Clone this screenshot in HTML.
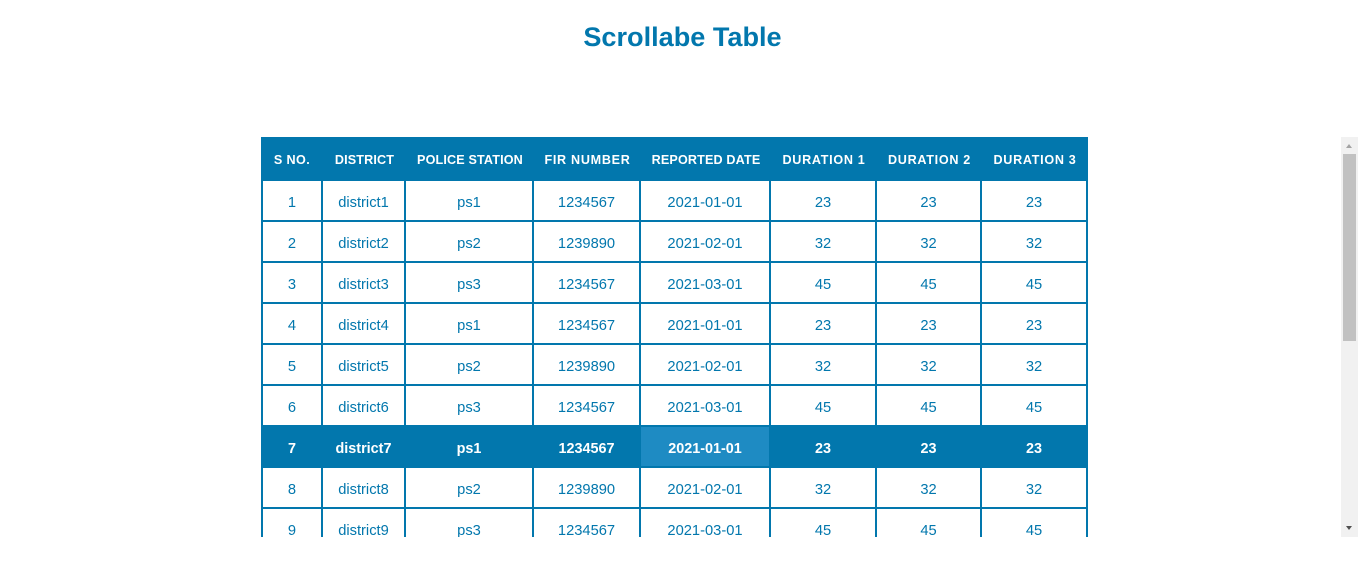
<!DOCTYPE html>
<html lang="en">
<head>
<meta charset="utf-8">
<title>Scrollabe Table</title>
<style>
  html, body { margin: 0; padding: 0; width: 1365px; height: 585px; overflow: hidden; background: #fff; }
  body { position: relative; font-family: "Liberation Sans", sans-serif; color: #0277ad; }
  h1 { position: absolute; left: 0; top: 20px; width: 1365px; margin: 0; text-align: center; font-size: 27.1px; line-height: 34px; font-weight: 700; color: #0277ad; }
  .viewport { position: absolute; left: 261px; top: 137px; width: 827px; height: 400px; overflow: hidden; }
  table { border-collapse: separate; border-spacing: 0; table-layout: fixed; width: 827px; }
  th, td { box-sizing: border-box; text-align: center; vertical-align: middle; }
  th { height: 44px; padding: 2px 0 0; background: #0277ad; color: #fff; font-size: 12.6px; font-weight: 700; letter-spacing: 0.15px; }
  th.wide { letter-spacing: 0.7px; }
  th.first { letter-spacing: 0.4px; }
  td { height: 41px; padding: 4px 0 0; font-size: 14.7px; border-right: 2px solid #0277ad; border-bottom: 2px solid #0277ad; }
  td:first-child { border-left: 2px solid #0277ad; }
  tr.selected td { background: #0277ad; color: #fff; font-weight: 700; font-size: 14.4px; }
  tr.selected td.hover-cell { background: #1e8bc3; }
  .scrollbar { position: absolute; left: 1341px; top: 137px; width: 17px; height: 400px; background: #f1f1f1; }
  .thumb { position: absolute; left: 2px; top: 17px; width: 13px; height: 187px; background: #c1c1c1; }
  .arrow { position: absolute; left: 5px; width: 0; height: 0; border-left: 3.5px solid transparent; border-right: 3.5px solid transparent; }
  .arrow-up { top: 7px; border-bottom: 4px solid #a3a3a3; }
  .arrow-down { bottom: 7px; border-top: 4px solid #505050; }
</style>
</head>
<body>
<h1>Scrollabe Table</h1>
<div class="viewport">
<table>
  <colgroup>
    <col style="width:62px"><col style="width:83px"><col style="width:128px"><col style="width:107px"><col style="width:130px"><col style="width:106px"><col style="width:105px"><col style="width:106px">
  </colgroup>
  <thead>
    <tr>
      <th class="first">S NO.</th>
      <th>DISTRICT</th>
      <th>POLICE STATION</th>
      <th class="wide">FIR NUMBER</th>
      <th>REPORTED DATE</th>
      <th class="wide">DURATION 1</th>
      <th class="wide">DURATION 2</th>
      <th class="wide">DURATION 3</th>
    </tr>
  </thead>
  <tbody>
    <tr><td>1</td><td>district1</td><td>ps1</td><td>1234567</td><td>2021-01-01</td><td>23</td><td>23</td><td>23</td></tr>
    <tr><td>2</td><td>district2</td><td>ps2</td><td>1239890</td><td>2021-02-01</td><td>32</td><td>32</td><td>32</td></tr>
    <tr><td>3</td><td>district3</td><td>ps3</td><td>1234567</td><td>2021-03-01</td><td>45</td><td>45</td><td>45</td></tr>
    <tr><td>4</td><td>district4</td><td>ps1</td><td>1234567</td><td>2021-01-01</td><td>23</td><td>23</td><td>23</td></tr>
    <tr><td>5</td><td>district5</td><td>ps2</td><td>1239890</td><td>2021-02-01</td><td>32</td><td>32</td><td>32</td></tr>
    <tr><td>6</td><td>district6</td><td>ps3</td><td>1234567</td><td>2021-03-01</td><td>45</td><td>45</td><td>45</td></tr>
    <tr class="selected"><td>7</td><td>district7</td><td>ps1</td><td>1234567</td><td class="hover-cell">2021-01-01</td><td>23</td><td>23</td><td>23</td></tr>
    <tr><td>8</td><td>district8</td><td>ps2</td><td>1239890</td><td>2021-02-01</td><td>32</td><td>32</td><td>32</td></tr>
    <tr><td>9</td><td>district9</td><td>ps3</td><td>1234567</td><td>2021-03-01</td><td>45</td><td>45</td><td>45</td></tr>
  </tbody>
</table>
</div>
<div class="scrollbar">
  <div class="arrow arrow-up"></div>
  <div class="thumb"></div>
  <div class="arrow arrow-down"></div>
</div>
</body>
</html>
